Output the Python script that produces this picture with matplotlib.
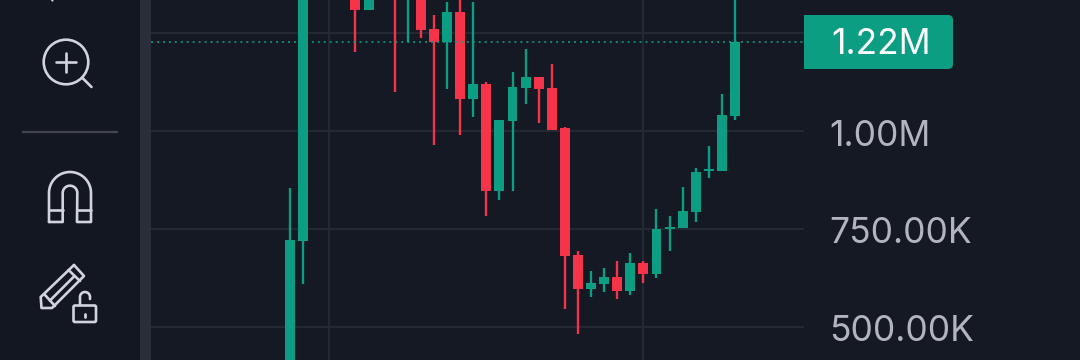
import numpy as np
import matplotlib
matplotlib.use("Agg")
import matplotlib.pyplot as plt
from matplotlib.patches import Circle, FancyBboxPatch, Rectangle
from matplotlib.transforms import ScaledTranslation

plt.rcParams['font.family'] = ['Inter', 'DejaVu Sans']

#Colours ---------------------------------------------------------------
BG = '#151924'
PANEL = '#131722'
STRIP = '#2A2E39'
GRID = '#262A35'
UP = '#0C9E82'
DOWN = '#F5344A'
TEXT = '#B2B5BE'
ICON = '#D1D4DC'

#Data, in thousands. Candles above the visible top are estimates --------
idx    = [0, 1, 5, 6, 8, 9, 10, 11, 12, 13, 14, 15, 16, 17, 18, 19, 20, 21, 22, 23, 24, 25, 26, 27, 28, 29, 30, 31, 32, 33, 34]
opens  = [365, 719, 1400, 1309, 1400, 1345, 1400, 1260, 1227, 1304, 1082, 1120, 847, 1026, 1110, 1138, 1110, 1008, 684, 597, 610, 628, 592, 663, 635, 750, 753, 793, 898, 898, 1038]
closes = [722, 1400, 1309, 1400, 1350, 1400, 1258, 1227, 1304, 1082, 1120, 847, 1028, 1112, 1138, 1107, 1003, 681, 597, 612, 628, 592, 663, 635, 750, 753, 796, 895, 900, 1041, 1227]
highs  = [855, 1400, 1400, 1400, 1400, 1400, 1400, 1296, 1329, 1345, 1329, 1125, 1028, 1150, 1209, 1138, 1171, 1010, 694, 643, 651, 668, 689, 668, 801, 783, 857, 906, 962, 1094, 1400]
lows   = [365, 610, 1202, 1309, 1099, 1227, 1237, 964, 1107, 990, 1036, 783, 824, 847, 1069, 1020, 1003, 546, 482, 577, 589, 571, 582, 612, 625, 694, 753, 768, 880, 898, 1028]

last_price = 1227
last_label = '1.22M'
price_ticks = [500, 750, 1000, 1250]
price_labels = ['500.00K', '750.00K', '1.00M', '']
time_ticks = [3, 27]

fig = plt.figure(figsize=(10.8, 3.6), dpi=100, facecolor=BG)

#Price chart -----------------------------------------------------------
ax = fig.add_axes([151 / 1080, 0, (804 - 151) / 1080, 1])
ax.set_facecolor(BG)
ax.set_xlim(-10.62, 39.27)
ax.set_ylim(415.8, 1334.2)
for s in ax.spines.values():
    s.set_visible(False)

ax.set_yticks(price_ticks)
ax.set_yticklabels(price_labels)
ax.yaxis.tick_right()
ax.tick_params(axis='y', length=0, pad=18, labelsize=25.5, labelcolor=TEXT)
ax.set_xticks(time_ticks)
ax.set_xticklabels([])
ax.tick_params(axis='x', length=0)
ax.grid(True, color=GRID, lw=1.3, zorder=0)
ax.set_axisbelow(True)

#labels sit a little under their grid lines
down = ScaledTranslation(0, -1.5 / 100, fig.dpi_scale_trans)
for lab in ax.get_yticklabels():
    lab.set_transform(lab.get_transform() + down)

colors = [UP if c >= o else DOWN for o, c in zip(opens, closes)]
ax.vlines(idx, lows, highs, colors=colors, lw=1.7, zorder=2)
bottoms = [min(o, c) for o, c in zip(opens, closes)]
heights = [max(abs(c - o), 5) for o, c in zip(opens, closes)]
ax.bar(idx, heights, bottom=bottoms, width=0.76, color=colors, lw=0, zorder=3)
ax.axhline(last_price, color=UP, lw=1.3, ls=(0, (1.1, 2.2)), alpha=0.9, zorder=4)

#Overlay in picture pixels: toolbar and badge --------------------------
ov = fig.add_axes([0, 0, 1, 1], facecolor='none', zorder=5)
ov.set_xlim(0, 1080)
ov.set_ylim(360, 0)
ov.axis('off')

ov.add_patch(Rectangle((0, 0), 140, 360, fc=PANEL, lw=0))
ov.add_patch(Rectangle((140, 0), 11, 360, fc=STRIP, lw=0))
ov.plot([22, 118], [131.5, 131.5], color='#434651', lw=1.6, solid_capstyle='butt')

def icon(xs, ys, lw=1.9):
    ov.plot(xs, ys, color=ICON, lw=lw, solid_capstyle='round', solid_joinstyle='round')

#tip of the icon above, cut by the edge
icon([52, 52.5], [0, 0.6], lw=1.5)

#zoom
ov.add_patch(Circle((66, 62), 22.3, fc='none', ec=ICON, lw=1.9))
icon([56, 75.5], [62, 62])
icon([65.7, 65.7], [52.5, 71.5])
icon([82, 91.5], [77.5, 87])

#magnet
t = np.linspace(np.pi, 2 * np.pi, 40)
mx = np.r_[49, 70 + 21 * np.cos(t), 91, 77, 70 + 7.3 * np.cos(t[::-1]), 62.7, 49]
my = np.r_[222, 193 + 21 * np.sin(t), 222, 222, 193 + 7.3 * np.sin(t[::-1]), 222, 222]
icon(mx, my)
icon([49, 62.7], [210, 210])
icon([77, 91], [210, 210])

#pencil
icon([74, 84, 52, 41.5, 40.7, 74], [265, 276, 308, 308, 297, 265])
icon([68.5, 80], [270, 281])
icon([45, 55], [295, 306])
icon([50, 74.5], [300.5, 276])

#open lock
ov.add_patch(FancyBboxPatch((73.5, 305.5), 22.5, 16.5, boxstyle='round,pad=0,rounding_size=1.5', fc='none', ec=ICON, lw=1.9))
a = np.linspace(np.pi, 2 * np.pi, 20)
icon(np.r_[80, 85 + 5 * np.cos(a), 90], np.r_[305, 297 + 5 * np.sin(a), 299])
icon([84.5, 84.5], [313.5, 316.5], lw=2)

#last price badge
ov.add_patch(FancyBboxPatch((804, 15), 149, 54, boxstyle='round,pad=0,rounding_size=5', fc=UP, lw=0))
ov.add_patch(Rectangle((804, 15), 10, 54, fc=UP, lw=0))
ov.text(831, 45, last_label, color='#FFFFFF', fontsize=25.5, ha='left', va='center')

fig.savefig('out.png', dpi=100, facecolor=BG)
